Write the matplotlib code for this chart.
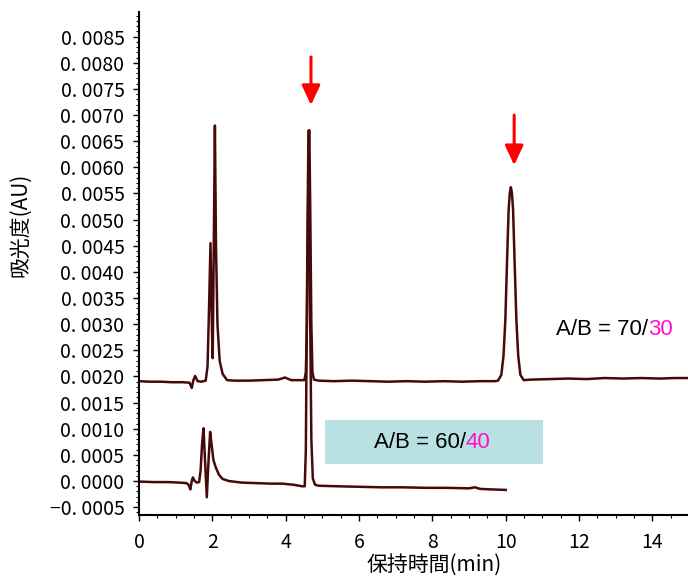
import matplotlib
matplotlib.use("Agg")
import matplotlib.pyplot as plt
from matplotlib.patches import Rectangle
from matplotlib.ticker import MultipleLocator, FixedLocator

plt.rcParams['font.family'] = ['Noto Sans CJK JP', 'DejaVu Sans']

# chromatogram, A/B = 70/30 (upper trace)
t_7030 = [0.0, 0.3, 0.6, 0.9, 1.2, 1.38, 1.44, 1.48, 1.53, 1.60, 1.70, 1.82,
          1.87, 1.91, 1.95, 1.99, 2.01, 2.04, 2.07, 2.10, 2.14, 2.20, 2.28, 2.40,
          2.6, 3.0, 3.4, 3.8, 3.98, 4.15, 4.4, 4.51, 4.55, 4.58, 4.61, 4.63, 4.64,
          4.65, 4.67, 4.70, 4.73, 4.77, 4.9, 5.3, 5.8, 6.3, 6.8, 7.3, 7.8, 8.3,
          8.8, 9.3, 9.7, 9.79, 9.88, 9.94, 9.99, 10.04, 10.08, 10.11, 10.14,
          10.17, 10.20, 10.24, 10.29, 10.34, 10.40, 10.49, 10.7, 11.2, 11.7, 12.2,
          12.7, 13.2, 13.7, 14.2, 14.6, 15.0]
a_7030 = [0.00191, 0.00190, 0.00190, 0.00189, 0.00189, 0.00188, 0.00178, 0.00192,
          0.00201, 0.00191, 0.00190, 0.00192, 0.00220, 0.00330, 0.00455, 0.00290,
          0.00235, 0.00450, 0.00680, 0.00450, 0.00300, 0.00230, 0.00205, 0.00193,
          0.00192, 0.00192, 0.00193, 0.00194, 0.00198, 0.00193, 0.00193, 0.00193,
          0.00208, 0.00300, 0.00521, 0.00640, 0.00671, 0.00640, 0.00521, 0.00300,
          0.00208, 0.00194, 0.00192, 0.00191, 0.00192, 0.00191, 0.00190, 0.00191,
          0.00190, 0.00191, 0.00190, 0.00191, 0.00191, 0.00192, 0.00203, 0.00240,
          0.00309, 0.00430, 0.00520, 0.00550, 0.00562, 0.00550, 0.00520, 0.00425,
          0.00309, 0.00240, 0.00203, 0.00193, 0.00194, 0.00195, 0.00196, 0.00195,
          0.00197, 0.00196, 0.00197, 0.00196, 0.00197, 0.00197]

# chromatogram, A/B = 60/40 (lower trace)
t_6040 = [0.0, 0.4, 0.8, 1.1, 1.3, 1.36, 1.40, 1.44, 1.47, 1.52, 1.58, 1.64,
          1.68, 1.72, 1.76, 1.80, 1.85, 1.89, 1.94, 1.98, 2.03, 2.10, 2.18, 2.28,
          2.45, 2.8, 3.2, 3.6, 3.9, 4.2, 4.45, 4.52, 4.55, 4.58, 4.62, 4.66, 4.70,
          4.74, 4.80, 4.9, 5.4, 6.0, 6.6, 7.2, 7.8, 8.4, 9.0, 9.16, 9.3, 9.6, 10.0]
a_6040 = [-0.00001, -0.00002, -0.00002, -0.00003, -0.00004, -0.00008, -0.00016,
          0.00000, 0.00007, 0.00000, -0.00003, -0.00002, 0.00020, 0.00070,
          0.00101, 0.00040, -0.00031, 0.00030, 0.00094, 0.00070, 0.00040, 0.00025,
          0.00012, 0.00004, 0.00000, -0.00003, -0.00004, -0.00005, -0.00005,
          -0.00007, -0.00010, -0.00010, 0.00060, 0.00350, 0.00670, 0.00370,
          0.00080, 0.00005, -0.00007, -0.00009, -0.00010, -0.00011, -0.00012,
          -0.00012, -0.00013, -0.00013, -0.00014, -0.00012, -0.00015, -0.00016,
          -0.00017]

y_ticks = [-0.0005, 0.0, 0.0005, 0.0010, 0.0015, 0.0020, 0.0025, 0.0030, 0.0035,
           0.0040, 0.0045, 0.0050, 0.0055, 0.0060, 0.0065, 0.0070, 0.0075, 0.0080,
           0.0085]
x_ticks = [0, 2, 4, 6, 8, 10, 12, 14]
arrow_t = [4.69, 10.23]
arrow_top = [0.00811, 0.00700]
arrow_tip = [0.00719, 0.00604]

line_col = '#470a0a'
pink = '#ff10c8'

fig = plt.figure(figsize=(6.88, 5.79), dpi=100)
ax = fig.add_axes([0.202, 0.1105, 0.798, 0.8687])

ax.plot(t_7030, a_7030, color=line_col, lw=1.8, solid_joinstyle='round')
ax.plot(t_6040, a_6040, color=line_col, lw=1.8, solid_joinstyle='round')

# highlight box behind the 60/40 label
ax.add_patch(Rectangle((5.07, 0.000325), 5.95, 0.000845, facecolor='#b9e1e3',
                       edgecolor='none', zorder=1))

for xt, y0, y1 in zip(arrow_t, arrow_top, arrow_tip):
    ax.annotate('', xy=(xt, y1), xytext=(xt, y0),
                arrowprops=dict(arrowstyle='-|>,head_length=0.6,head_width=0.28',
                                mutation_scale=20, color='red', lw=2.2,
                                shrinkA=0, shrinkB=0))

# two-colour labels
lab_font = dict(family='Liberation Sans', fontsize=16)
t1 = ax.text(11.37, 0.00289, 'A/B = 70/', ha='left', va='center', color='black', **lab_font)
ax.annotate('30', xy=(1, 0), xycoords=t1, ha='left', va='bottom', color=pink, **lab_font)
t2 = ax.text(6.4, 0.00073, 'A/B = 60/', ha='left', va='center', color='black', **lab_font)
ax.annotate('40', xy=(1, 0), xycoords=t2, ha='left', va='bottom', color=pink, **lab_font)

ax.set_xlim(0, 14.97)
ax.set_ylim(-0.00065, 0.00897)

ax.xaxis.set_major_locator(FixedLocator(x_ticks))
ax.xaxis.set_minor_locator(MultipleLocator(0.5))
ax.yaxis.set_major_locator(FixedLocator(y_ticks))
ax.yaxis.set_minor_locator(MultipleLocator(0.0001))
ax.set_xticklabels([str(v) for v in x_ticks])
ax.set_yticklabels([('\u2212' if v < 0 else '') + '0. ' + f'{abs(v):.4f}'[2:] for v in y_ticks])

for s in ['top', 'right']:
    ax.spines[s].set_visible(False)
for s in ['left', 'bottom']:
    ax.spines[s].set_linewidth(1.5)

ax.tick_params(which='major', length=4.5, width=1, labelsize=14)
ax.tick_params(axis='y', which='major', pad=6)
ax.tick_params(axis='x', which='major', pad=8)
ax.tick_params(which='minor', length=2.2, width=0.8)

fig.text(20 / 688, 1 - 225 / 579, '吸光度(AU)', rotation=90, ha='center', va='center', fontsize=15)
fig.text(434 / 688, 3 / 579, '保持時間(min)', ha='center', va='bottom', fontsize=15)

fig.savefig('out.png', dpi=100)
